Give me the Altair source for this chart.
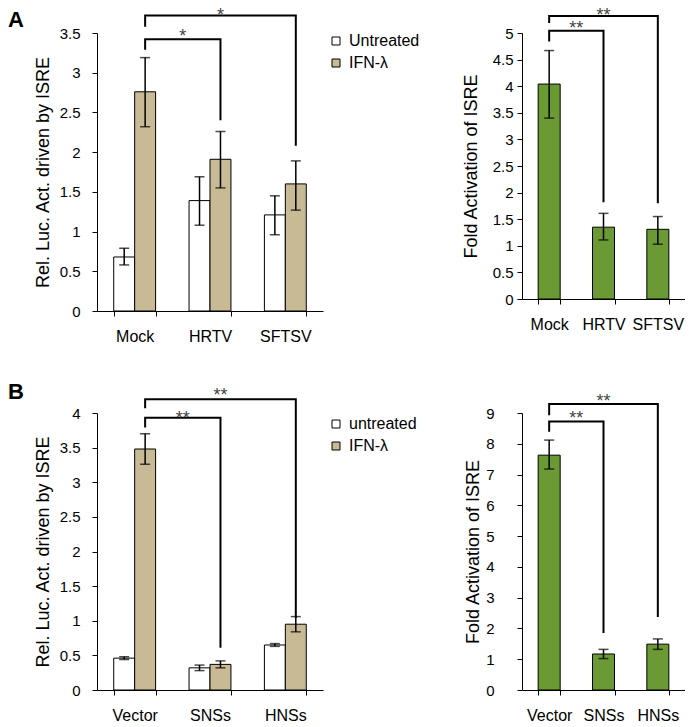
import altair as alt
import pandas as pd

FONT = "Liberation Sans"
TAN = "#c8ba94"
GREEN = "#6b9a35"
STAR = "#444444"

# ---------------- Panel A (left): luciferase activity ----------------
a_cats = ["Mock", "HRTV", "SFTSV"]
a_groups = ["Untreated", "IFN-λ"]
a_untreated = [0.68, 1.39, 1.21]
a_untreated_lo = [0.58, 1.08, 0.96]
a_untreated_hi = [0.79, 1.69, 1.45]
a_ifn = [2.76, 1.91, 1.60]
a_ifn_lo = [2.32, 1.55, 1.27]
a_ifn_hi = [3.19, 2.26, 1.89]
a_yticks = [0, 0.5, 1, 1.5, 2, 2.5, 3, 3.5]
a_br_start = ["Mock", "Mock"]
a_br_end = ["HRTV", "SFTSV"]
a_br_y0 = [3.29, 3.58]
a_br_level = [3.42, 3.72]
a_br_y1 = [2.40, 2.08]
a_br_star = [3.50, 3.76]
a_br_label = ["*", "*"]

# ---------------- Panel A (right): fold activation ----------------
af_cats = ["Mock", "HRTV", "SFTSV"]
af_vals = [4.04, 1.35, 1.31]
af_lo = [3.40, 1.11, 1.03]
af_hi = [4.67, 1.61, 1.55]
af_yticks = [0, 0.5, 1, 1.5, 2, 2.5, 3, 3.5, 4, 4.5, 5]
af_br_start = ["Mock", "Mock"]
af_br_end = ["HRTV", "SFTSV"]
af_br_y0 = [4.84, 5.19]
af_br_level = [5.04, 5.32]
af_br_y1 = [1.82, 1.80]
af_br_star = [5.15, 5.40]
af_br_label = ["**", "**"]

# ---------------- Panel B (left): luciferase activity ----------------
b_cats = ["Vector", "SNSs", "HNSs"]
b_groups = ["untreated", "IFN-λ"]
b_untreated = [0.46, 0.32, 0.65]
b_untreated_lo = [0.44, 0.28, 0.63]
b_untreated_hi = [0.48, 0.36, 0.67]
b_ifn = [3.48, 0.37, 0.95]
b_ifn_lo = [3.26, 0.32, 0.84]
b_ifn_hi = [3.70, 0.42, 1.06]
b_yticks = [0, 0.5, 1, 1.5, 2, 2.5, 3, 3.5, 4]
b_br_start = ["Vector", "Vector"]
b_br_end = ["SNSs", "HNSs"]
b_br_y0 = [3.79, 4.07]
b_br_level = [3.93, 4.20]
b_br_y1 = [0.61, 1.04]
b_br_star = [3.97, 4.30]
b_br_label = ["**", "**"]

# ---------------- Panel B (right): fold activation ----------------
bf_cats = ["Vector", "SNSs", "HNSs"]
bf_vals = [7.63, 1.17, 1.49]
bf_lo = [7.18, 1.02, 1.32]
bf_hi = [8.12, 1.32, 1.66]
bf_yticks = [0, 1, 2, 3, 4, 5, 6, 7, 8, 9]
bf_br_start = ["Vector", "Vector"]
bf_br_end = ["SNSs", "HNSs"]
bf_br_y0 = [8.39, 8.93]
bf_br_level = [8.72, 9.29]
bf_br_y1 = [1.85, 2.37]
bf_br_star = [8.93, 9.49]
bf_br_label = ["**", "**"]


def y_axis(values, title, label_pad, title_pad):
    return alt.Axis(
        values=values, format=".1~f", grid=False, title=title, labelOverlap=False,
        domainColor="black", tickColor="black", tickSize=5, domainWidth=1, tickWidth=1,
        labelFont=FONT, labelFontSize=15, labelColor="black", labelPadding=label_pad,
        titleFont=FONT, titleFontSize=18, titleFontWeight="normal", titleColor="black",
        titlePadding=title_pad,
    )


def x_axis():
    return alt.Axis(
        title=None, tickBand="extent", tickSize=5, tickColor="black", domainColor="black",
        labelFont=FONT, labelFontSize=16, labelColor="black", labelAngle=0, labelPadding=12,
        grid=False,
    )


def bracket_layers(cats, width, bar_bp, xsc, Y, starts, ends, y0s, levels, y1s, stars, labels):
    step = width / len(cats)
    rows = []
    for i in range(len(starts)):
        pts = [(starts[i], y0s[i]), (starts[i], levels[i]), (ends[i], levels[i]), (ends[i], y1s[i])]
        for k, (c, v) in enumerate(pts):
            rows.append({"cat": c, "val": v, "seq": k, "bid": i})
    line = alt.Chart(pd.DataFrame(rows)).mark_line(color="black", strokeWidth=2).encode(
        x=alt.X("cat:N", sort=cats, scale=xsc, axis=x_axis(), bandPosition=bar_bp),
        y=Y("val"),
        order=alt.Order("seq:Q"),
        detail="bid:N",
    )
    layers = [line]
    for i in range(len(starts)):
        gap = cats.index(ends[i]) - cats.index(starts[i])
        star = alt.Chart(pd.DataFrame({"cat": [starts[i]], "val": [stars[i]], "t": [labels[i]]})).mark_text(
            font=FONT, fontSize=18, color=STAR, baseline="middle", dy=4, dx=gap * step / 2
        ).encode(
            x=alt.X("cat:N", sort=cats, scale=xsc, axis=x_axis(), bandPosition=bar_bp),
            y=Y("val"),
            text="t:N",
        )
        layers.append(star)
    return layers


def make_y(yticks, title, label_pad, title_pad):
    ysc = alt.Scale(domain=[0, yticks[-1]], nice=False, zero=True)
    ax = y_axis(yticks, title, label_pad, title_pad)

    def Y(field):
        return alt.Y(f"{field}:Q", scale=ysc, axis=ax)
    return Y


def grouped_panel(cats, groups, series, los, his, yticks, ytitle, brackets, legend_y, letter, title_dy, height):
    pad_inner = 0.444
    width = 226
    xsc = alt.Scale(type="band", paddingInner=pad_inner, paddingOuter=pad_inner / 2)
    Y = make_y(yticks, ytitle, 12, 7)
    rows, caps = [], []
    for g, vals, lo, hi in zip(groups, series, los, his):
        for c, v, l, h in zip(cats, vals, lo, hi):
            rows.append({"cat": c, "grp": g, "val": v, "lo": l, "hi": h})
            caps.append({"cat": c, "grp": g, "v": l})
            caps.append({"cat": c, "grp": g, "v": h})
    df = pd.DataFrame(rows)
    X = alt.X("cat:N", sort=cats, scale=xsc, axis=x_axis())
    XO = alt.XOffset("grp:N", sort=groups, scale=alt.Scale(type="band", paddingInner=0, paddingOuter=0))
    bars = alt.Chart(df).mark_bar(stroke="black", strokeWidth=1).encode(
        x=X, xOffset=XO, y=Y("val"),
        fill=alt.Fill(
            "grp:N", sort=groups, scale=alt.Scale(domain=groups, range=["white", TAN]),
            legend=alt.Legend(
                title=None, orient="none", legendX=231, legendY=legend_y,
                symbolType="square", symbolSize=64, symbolStrokeColor="black",
                symbolStrokeWidth=1, symbolOpacity=1, labelFont=FONT, labelFontSize=16,
                labelColor="black", labelOffset=5, rowPadding=6,
            ),
        ),
    )
    err = alt.Chart(df).mark_rule(color="black", strokeWidth=1.5).encode(
        x=X, xOffset=XO, y=Y("lo"), y2="hi:Q"
    )
    cap = alt.Chart(pd.DataFrame(caps)).mark_tick(color="black", size=10, thickness=1.5).encode(
        x=X, xOffset=XO, y=Y("v")
    )
    br = bracket_layers(cats, width, 0.75, xsc, Y, *brackets)
    return alt.layer(bars, err, cap, *br).properties(
        width=width, height=height,
        title=alt.TitleParams(
            text=letter, anchor="start", frame="group", font=FONT, fontSize=22,
            fontWeight="bold", color="black", dx=-89, dy=title_dy, offset=0,
        ),
    )


def single_panel(cats, vals, lo, hi, yticks, brackets, height, label_pad, title_pad):
    pad_inner = 0.595
    width = 163
    xsc = alt.Scale(type="band", paddingInner=pad_inner, paddingOuter=pad_inner / 2)
    Y = make_y(yticks, "Fold  Activation of ISRE", label_pad, title_pad)
    df = pd.DataFrame({"cat": cats, "val": vals, "lo": lo, "hi": hi})
    caps = pd.DataFrame({"cat": cats + cats, "v": lo + hi})
    X = alt.X("cat:N", sort=cats, scale=xsc, axis=x_axis())
    bars = alt.Chart(df).mark_bar(fill=GREEN, stroke="black", strokeWidth=1).encode(x=X, y=Y("val"))
    err = alt.Chart(df).mark_rule(color="black", strokeWidth=1.5).encode(x=X, y=Y("lo"), y2="hi:Q")
    cap = alt.Chart(caps).mark_tick(color="black", size=10, thickness=1.5).encode(x=X, y=Y("v"))
    br = bracket_layers(cats, width, 0.5, xsc, Y, *brackets)
    return alt.layer(bars, err, cap, *br).properties(width=width, height=height)


aL = grouped_panel(
    a_cats, a_groups, [a_untreated, a_ifn], [a_untreated_lo, a_ifn_lo], [a_untreated_hi, a_ifn_hi],
    a_yticks, "Rel. Luc. Act. driven by ISRE",
    (a_br_start, a_br_end, a_br_y0, a_br_level, a_br_y1, a_br_star, a_br_label), 0, "A", 25, 278,
)
aR = single_panel(
    af_cats, af_vals, af_lo, af_hi, af_yticks,
    (af_br_start, af_br_end, af_br_y0, af_br_level, af_br_y1, af_br_star, af_br_label), 266, 4, 12,
)
bL = grouped_panel(
    b_cats, b_groups, [b_untreated, b_ifn], [b_untreated_lo, b_ifn_lo], [b_untreated_hi, b_ifn_hi],
    b_yticks, "Rel. Luc. Act. driven by ISRE",
    (b_br_start, b_br_end, b_br_y0, b_br_level, b_br_y1, b_br_star, b_br_label), 3, "B", 17, 277,
)
bR = single_panel(
    bf_cats, bf_vals, bf_lo, bf_hi, bf_yticks,
    (bf_br_start, bf_br_end, bf_br_y0, bf_br_level, bf_br_y1, bf_br_star, bf_br_label), 277, 23, 3,
)

chart = alt.concat(
    aL, aR, bL, bR, columns=2, spacing={"row": 102, "column": 199}, bounds="flush"
).resolve_scale(fill="independent", xOffset="independent").resolve_legend(
    fill="independent"
).configure_view(stroke=None).properties(
    padding={"left": 0, "top": -2, "right": 0, "bottom": 0}, background="white"
)

chart.save("out.html", embed_options={"renderer": "svg", "actions": False})
